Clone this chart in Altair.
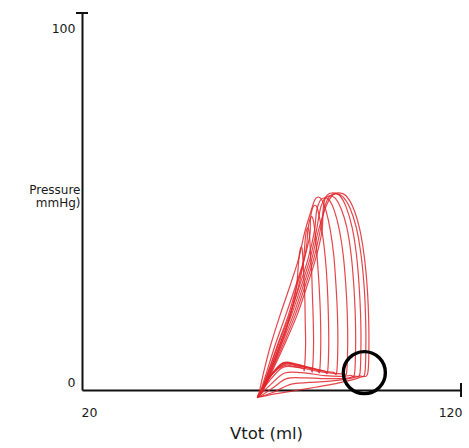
import altair as alt
import pandas as pd

# Pressure-volume loops (Vtot ml, Pressure mmHg), each listed: right side up, top, left side down, filling
loop_0 = [(95.4,4.5),(95.7,12),(95.6,20),(95.2,28),(94.4,36),(93.2,43),(91.5,48.5),(89.6,51.6),(87.8,52.3),
          (86.2,51.8),(84.5,49),(82.3,42),(80.7,35),(78.5,28),(75.8,20),(72.6,12),(69.8,5),(67.6,0),(66.5,-1.8),
          (70.5,-1.1),(76,-0.2),(82,0.8),(87,1.7),(91,2.6),(93.8,3.5)]
loop_1 = [(94.6,4.3),(94.9,12),(94.8,20),(94.4,28),(93.6,36),(92.4,43),(90.7,48.3),(88.8,51.3),(87.0,52.0),
          (85.4,51.4),(84.0,48.5),(82.8,42),(81.2,35),(79.0,28),(76.3,20),(73.0,12),(70.0,5),(67.7,0),(66.6,-1.7),
          (70.5,-0.6),(75,1.5),(80,2.0),(86,2.4),(90.5,3.0),(93.2,3.7)]
loop_2 = [(93.3,4.2),(93.6,12),(93.5,20),(93.1,28),(92.4,36),(91.3,43),(89.7,48.5),(88.0,51.6),(86.2,52.3),
          (84.6,51.6),(83.0,48.5),(81.8,42),(80.2,35),(78.0,28),(75.3,20),(72.2,12),(69.5,5),(67.5,0),(66.5,-1.9),
          (70.3,0.5),(74,3.0),(79,3.2),(85,3.0),(89.5,3.1),(92.0,3.7)]
loop_3 = [(91.9,4.3),(92.2,12),(92.1,20),(91.7,28),(91.0,36),(89.9,43),(88.4,48),(86.8,50.9),(85.3,51.5),
          (84.1,50.6),(83.6,47.5),(83.3,42),(81.7,35),(79.5,28),(76.8,20),(73.4,12),(70.2,5),(67.8,0),(66.4,-1.9),
          (69.8,1.5),(73.5,4.5),(78,4.6),(84,3.8),(88.5,3.6),(90.8,3.9)]
loop_4 = [(89.8,4.5),(90.1,12),(90.0,20),(89.6,28),(88.9,36),(87.9,42.5),(86.6,47.5),(85.3,50.3),(84.0,51.0),
          (82.8,50.2),(81.9,47.5),(81.3,42),(79.7,35),(77.5,28),(74.8,20),(71.8,12),(69.2,5),(67.4,0),(66.4,-1.8),
          (69.5,2.5),(73,6.0),(77,6.0),(82,5.0),(86.5,4.4),(88.8,4.3)]
loop_5 = [(87.2,4.6),(87.5,12),(87.4,20),(87.0,28),(86.4,36),(85.5,42.5),(84.4,47.5),(83.3,50.4),(82.3,51.2),
          (81.4,50.4),(80.5,47.7),(78.8,42),(77.2,35),(75.0,28),(72.3,20),(69.8,12),(68.0,5),(66.9,0),(66.4,-1.9),
          (69.3,3.0),(72.8,7.0),(76.5,6.8),(81,5.6),(84.5,4.9),(86.4,4.7)]
loop_6 = [(84.8,4.8),(85.1,12),(85.0,20),(84.7,28),(84.2,35),(83.5,41),(82.7,45.5),(82.1,48.2),(81.5,49.0),
          (80.8,48.2),(80.3,45.5),(80.1,41),(78.7,35),(76.5,28),(73.8,20),(71.0,12),(68.8,5),(67.2,0),(66.5,-1.7),
          (69.5,3.5),(73,7.2),(76.5,6.9),(80,6.0),(82.5,5.4),(84.0,5.0)]
loop_7 = [(82.7,5.0),(83.0,12),(82.9,20),(82.6,27),(82.2,33),(81.8,38.5),(81.4,42.5),(81.0,45.2),(80.6,46.0),
          (80.1,45.2),(79.6,42.5),(79.3,38.5),(78.5,34),(76.8,28),(74.5,20),(71.6,12),(69.2,5),(67.4,0),(66.6,-1.6),
          (69.8,3.8),(73.3,7.0),(76.5,6.6),(79.5,6.0),(81.2,5.6),(82.2,5.2)]
loop_8 = [(80.8,5.2),(81.1,12),(81.0,19),(80.8,25),(80.6,31),(80.3,36),(80.1,40),(79.9,42.2),(79.6,43.0),
          (79.2,42.2),(78.9,40),(78.6,36),(78.1,32),(77.0,27),(75.0,20),(72.2,12),(69.5,5),(67.5,0),(66.7,-1.5),
          (70.0,4.0),(73.5,6.8),(76.5,6.4),(78.8,6.0),(80.0,5.7),(80.5,5.4)]
loop_9 = [(78.7,5.5),(79.0,12),(78.9,18),(78.8,24),(78.6,29),(78.4,33),(78.2,36),(78.1,37.4),(77.9,38.0),
          (77.6,37.4),(77.3,35.5),(77.0,32),(76.6,27.5),(75.5,22),(73.9,16),(71.8,10),(69.8,5),(67.8,0),(66.8,-1.4),
          (70.2,4.2),(73.5,6.5),(76.0,6.2),(77.5,5.9),(78.2,5.7),(78.5,5.6)]

loops = [loop_0, loop_1, loop_2, loop_3, loop_4, loop_5, loop_6, loop_7, loop_8, loop_9]

# Highlight circle (end-diastolic region)
circle_v = [94.5]
circle_p = [4.6]

x_ticks = [20, 120]
y_ticks = [0, 100]

rows = []
for li, lp in enumerate(loops):
    for k, (v, p) in enumerate(lp):
        rows.append({"loop": li, "idx": k, "V": v, "P": p})
df = pd.DataFrame(rows)

FONT = "DejaVu Sans"
INK = "#1a1a1a"
xscale = alt.Scale(domain=[20, 120], nice=False, zero=False)
yscale = alt.Scale(domain=[0, 100], nice=False, zero=False)

lines = alt.Chart(df).mark_line(
    interpolate="cardinal-closed", color="#e0262b", strokeWidth=1.2, opacity=0.85
).encode(
    x=alt.X("V:Q", scale=xscale, axis=alt.Axis(
        values=x_ticks, title="Vtot (ml)", ticks=False, grid=False, labelFlush=True,
        labelFlushOffset=1, labelPadding=16, labelFontSize=12.5, labelColor=INK,
        labelFont=FONT, titleFont=FONT, titleFontSize=16.5, titleFontWeight="normal",
        titleColor=INK, titleAlign="center", titleBaseline="top", titleX=184, titleY=35,
        domainColor="#111", domainWidth=2)),
    y=alt.Y("P:Q", scale=yscale, axis=alt.Axis(
        values=y_ticks, title=["Pressure", "mmHg)"], ticks=False, grid=False,
        labelOffset={"condition": {"test": "datum.value == 100", "value": 15}, "value": -8},
        labelPadding=7,
        labelFontSize=12.5, labelColor=INK, labelFont=FONT,
        titleFont=FONT, titleFontSize=12, titleFontWeight="normal", titleColor=INK,
        titleAngle=0, titleAlign="right", titleBaseline="top", titleX=-2, titleY=171,
        titleLineHeight=13.5, domainColor="#111", domainWidth=2)),
    detail="loop:N",
    order="idx:Q",
)

circle_df = pd.DataFrame({"V": circle_v, "P": circle_p})
circle = alt.Chart(circle_df).mark_point(
    shape="circle", size=1764, strokeWidth=3.4, color="black", filled=False, opacity=1
).encode(x=alt.X("V:Q", scale=xscale), y=alt.Y("P:Q", scale=yscale))

top_tick = alt.Chart(pd.DataFrame({"P": [y_ticks[-1]]})).mark_rule(color="#111", strokeWidth=2).encode(
    y=alt.Y("P:Q", scale=yscale), x=alt.value(-6), x2=alt.value(6))
right_tick = alt.Chart(pd.DataFrame({"V": [x_ticks[-1]]})).mark_rule(color="#111", strokeWidth=2).encode(
    x=alt.X("V:Q", scale=xscale), y=alt.value(370), y2=alt.value(384))

chart = alt.layer(lines, circle, top_tick, right_tick).properties(
    width=379, height=377,
    padding={"left": 82, "top": 13, "right": 8, "bottom": 58},
    autosize=alt.AutoSizeParams(type="none"),
    background="white",
).configure_view(stroke=None)

chart.save("out.html", embed_options={"renderer": "svg", "actions": False})
